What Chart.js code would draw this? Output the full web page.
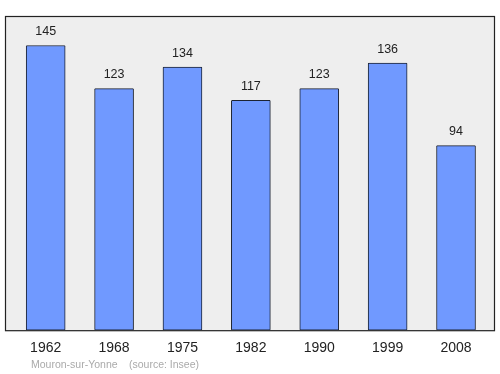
<!DOCTYPE html>
<html>
<head>
<meta charset="utf-8">
<script src="https://cdn.jsdelivr.net/npm/chart.js@4"></script>
<style>
  html, body { margin: 0; padding: 0; background: #fff; }
  #wrap { width: 500px; height: 374px; position: relative; }
</style>
</head>
<body>
<div id="wrap"><canvas id="chart" width="500" height="374"></canvas></div>
<script>
// Data
const years = ["1962", "1968", "1975", "1982", "1990", "1999", "2008"];
const population = [145, 123, 134, 117, 123, 136, 94];
const sourceNote = ["Mouron-sur-Yonne", "(source: Insee)"];

const FONT = "'Liberation Sans', Arial, sans-serif";

// grey box behind the bars, value labels and the source line
const decor = {
  id: "decor",
  beforeDatasetsDraw(chart) {
    const { ctx, chartArea: a } = chart;
    ctx.save();
    ctx.fillStyle = "#eeeeee";
    ctx.fillRect(a.left, a.top, a.right - a.left, a.bottom - a.top);
    ctx.restore();
  },
  afterDatasetsDraw(chart) {
    const { ctx, chartArea: a } = chart;
    ctx.save();
    ctx.strokeStyle = "#222";
    ctx.lineWidth = 1.2;
    ctx.strokeRect(a.left + 0.5, a.top + 0.5, a.right - a.left - 1, a.bottom - a.top);

    ctx.fillStyle = "#222";
    ctx.font = "12.5px " + FONT;
    ctx.textAlign = "center";
    ctx.textBaseline = "middle";
    chart.getDatasetMeta(0).data.forEach((bar, i) => {
      ctx.fillText(population[i], bar.x, bar.y - 14);
    });

    ctx.fillStyle = "#aaaaaa";
    ctx.font = "10.5px " + FONT;
    ctx.textAlign = "left";
    ctx.fillText(sourceNote[0], a.left + 26, 365);
    ctx.fillText(sourceNote[1], a.left + 124, 365);
    ctx.restore();
  }
};

new Chart(document.getElementById("chart"), {
  type: "bar",
  data: {
    datasets: [
      {
        data: population.map((v, i) => ({ x: i, y: v })),
        backgroundColor: "#7099ff",
        borderColor: "#1c2333",
        borderWidth: 1,
        borderRadius: 1,
        borderSkipped: false,
        barThickness: 39,
      },
    ],
  },
  options: {
    responsive: false,
    animation: false,
    layout: { padding: { left: 5, right: 5, top: 16, bottom: 7 } },
    plugins: { legend: { display: false }, tooltip: { enabled: false } },
    scales: {
      x: {
        type: "linear",
        offset: false,
        min: -0.595,
        max: 6.57,
        grid: { display: false, drawTicks: false },
        border: { display: false },
        ticks: {
          stepSize: 1,
          includeBounds: false,
          autoSkip: false,
          maxRotation: 0,
          padding: 10,
          color: "#222",
          font: { size: 14, family: FONT },
          callback: (v) => years[v] ?? "",
        },
      },
      y: {
        display: false,
        min: 0,
        max: 160,
      },
    },
  },
  plugins: [decor],
});
</script>
</body>
</html>
